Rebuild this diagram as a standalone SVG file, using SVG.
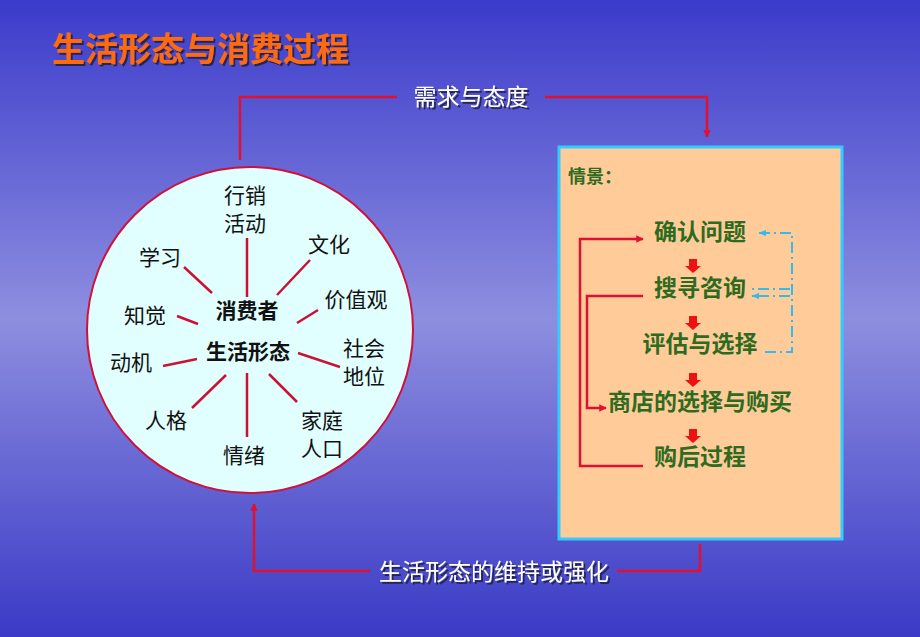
<svg xmlns="http://www.w3.org/2000/svg" width="920" height="637" viewBox="0 0 920 637">
<defs>
<linearGradient id="bg" x1="0" y1="0" x2="0" y2="1">
<stop offset="0" stop-color="#3b3bcb"/>
<stop offset="0.5" stop-color="#8e8ee0"/>
<stop offset="1" stop-color="#3a3ac6"/>
</linearGradient>
<filter id="sh" x="-10%" y="-30%" width="130%" height="160%">
<feDropShadow dx="2" dy="2" stdDeviation="0.6" flood-color="#1a1a40" flood-opacity="0.85"/>
</filter>
<marker id="ar" viewBox="0 0 10 10" refX="9" refY="5" markerWidth="3" markerHeight="3" orient="auto-start-reverse">
<path d="M0,0 L10,5 L0,10 z" fill="#e01030"/>
</marker>
<marker id="ab" viewBox="0 0 10 10" refX="9" refY="5" markerWidth="4" markerHeight="4" orient="auto">
<path d="M0,1 L10,5 L0,9 z" fill="#33bbee"/>
</marker>
<symbol id="down" viewBox="0 0 16 14" overflow="visible">
<path d="M4,0 H12 V7 H16 L8,14 L0,7 H4 z" fill="#ee1111"/>
</symbol>
</defs>
<style>
.cn{font-family:"Noto Sans CJK SC","Noto Sans CJK JP",sans-serif;}
.ct{font-size:21px;fill:#111;text-anchor:middle;}
.cb{font-size:21px;fill:#111;text-anchor:middle;font-weight:bold;}
.gt{font-size:23px;fill:#2f6b1f;text-anchor:middle;font-weight:bold;}
.wl{font-size:23px;fill:#ffffff;text-anchor:middle;}
.rl{stroke:#e01030;stroke-width:2.5;fill:none;}
.sp{stroke:#cc1133;stroke-width:2.5;}
.bl{stroke:#33bbee;stroke-width:2;fill:none;stroke-dasharray:11 4 2 4;}
</style>
<rect width="920" height="637" fill="url(#bg)"/>
<text class="cn" x="52" y="61" font-size="33" fill="#ff6a10" filter="url(#sh)" font-weight="bold">生活形态与消费过程</text>

<g id="connectors">
<polyline class="rl" points="240,160 240,97 397,97"/>
<polyline class="rl" points="545,97 707,97 707,137" marker-end="url(#ar)"/>
<polyline class="rl" points="700,544 700,571 617,571"/>
<polyline class="rl" points="370,571 254,571 254,504" marker-end="url(#ar)"/>
<text class="cn wl" x="471" y="105" filter="url(#sh)">需求与态度</text>
<text class="cn wl" x="494" y="580" filter="url(#sh)">生活形态的维持或强化</text>
</g>

<g id="lifestyle-circle">
<circle cx="250" cy="330" r="163" fill="#e2ffff" stroke="#d0103a" stroke-width="2"/>
<line class="sp" x1="247" y1="238" x2="247" y2="297"/>
<line class="sp" x1="184" y1="267" x2="212" y2="293"/>
<line class="sp" x1="310" y1="260" x2="277" y2="295"/>
<line class="sp" x1="318" y1="310" x2="297" y2="323"/>
<line class="sp" x1="177" y1="316" x2="198" y2="324"/>
<line class="sp" x1="163" y1="366" x2="197" y2="359"/>
<line class="sp" x1="298" y1="353" x2="340" y2="367"/>
<line class="sp" x1="192" y1="408" x2="226" y2="375"/>
<line class="sp" x1="247" y1="373" x2="247" y2="437"/>
<line class="sp" x1="269" y1="374" x2="297" y2="402"/>
<text class="cn ct" x="245" y="203">行销<tspan x="245" dy="28">活动</tspan></text>
<text class="cn ct" x="329" y="252">文化</text>
<text class="cn ct" x="160" y="265">学习</text>
<text class="cn cb" x="247" y="318">消费者</text>
<text class="cn ct" x="356" y="307">价值观</text>
<text class="cn ct" x="145" y="323">知觉</text>
<text class="cn cb" x="248" y="359">生活形态</text>
<text class="cn ct" x="364" y="356">社会<tspan x="364" dy="28">地位</tspan></text>
<text class="cn ct" x="131" y="370">动机</text>
<text class="cn ct" x="166" y="428">人格</text>
<text class="cn ct" x="322" y="428">家庭<tspan x="322" dy="28">人口</tspan></text>
<text class="cn ct" x="244" y="463">情绪</text>
</g>

<g id="situation-box">
<rect x="559" y="147" width="283" height="392" fill="#ffcc99" stroke="#33ccff" stroke-width="3"/>
<text class="cn" x="568" y="183" font-size="18" font-weight="bold" fill="#2f6b1f">情景：</text>
<text class="cn gt" x="700" y="240">确认问题</text>
<text class="cn gt" x="700" y="296">搜寻咨询</text>
<text class="cn gt" x="700" y="352">评估与选择</text>
<text class="cn gt" x="700" y="410">商店的选择与购买</text>
<text class="cn gt" x="700" y="465">购后过程</text>
<use href="#down" x="685" y="259" width="16" height="14"/>
<use href="#down" x="685" y="316" width="16" height="14"/>
<use href="#down" x="685" y="373" width="16" height="14"/>
<use href="#down" x="685" y="429" width="16" height="14"/>
<polyline class="rl" points="643,466 580,466 580,239 643,239" marker-end="url(#ar)"/>
<polyline class="rl" points="643,296 587,296 587,408 606,408" marker-end="url(#ar)"/>
<polyline class="bl" points="765,352 792,352 792,233 759,233" marker-end="url(#ab)"/>
<polyline class="bl" points="790,289 752,289"/>
<polyline class="bl" points="790,296 752,296" marker-end="url(#ab)"/>
</g>
</svg>
